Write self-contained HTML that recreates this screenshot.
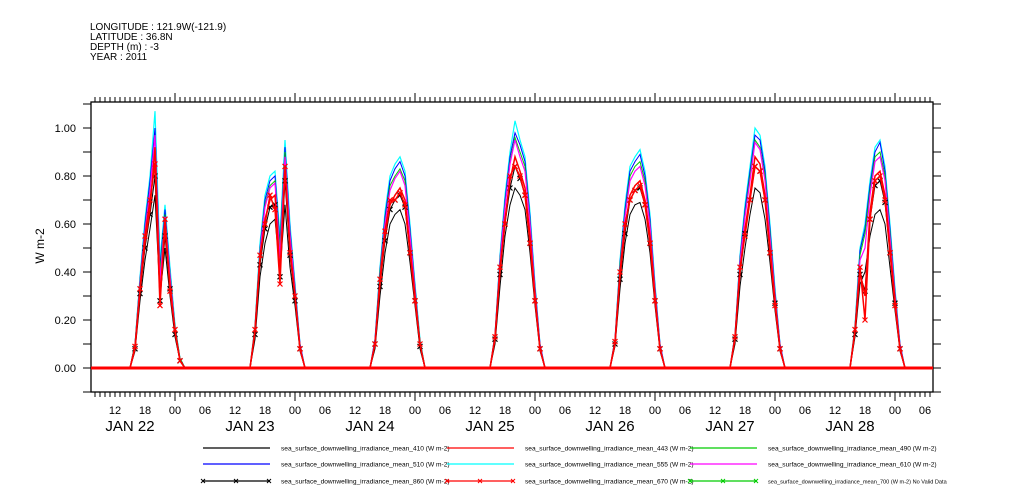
<!DOCTYPE html>
<html><head><meta charset="utf-8"><style>
html,body{margin:0;padding:0;background:#fff;}
svg{display:block;font-family:"Liberation Sans",sans-serif;}
</style></head><body>
<svg id="chart" width="1009" height="504" viewBox="0 0 1009 504">
<defs><clipPath id="plotclip"><rect x="91" y="102" width="842" height="290"/></clipPath></defs>
<g font-size="10" fill="#000">
<text x="90" y="30">LONGITUDE : 121.9W(-121.9)</text>
<text x="90" y="40">LATITUDE : 36.8N</text>
<text x="90" y="50">DEPTH (m) : -3</text>
<text x="90" y="60">YEAR : 2011</text>
</g>
<text x="44" y="246" font-size="12" text-anchor="middle" transform="rotate(-90 44 246)">W m-2</text>
<g id="axes"></g>
<g id="series" clip-path="url(#plotclip)"></g>
<g id="legend"></g>
</svg>
<script>
const HOURS=[14,15,16,17,18,19,20,21,22,23,24,25,26];
const DAY_LABELS=["JAN 22","JAN 23","JAN 24","JAN 25","JAN 26","JAN 27","JAN 28","JAN 29"];
const HOUR_LABELS=["00","06","12","18"];
const Y_TICKS=[0,0.2,0.4,0.6,0.8,1.0];
const s443=[0,0,.08,.32,.52,.66,.92,.3,.58,.35,.15,.03,0, 0,0,.15,.45,.62,.7,.72,.4,.82,.5,.3,.08,0, 0,0,.1,.35,.55,.68,.72,.75,.7,.5,.3,.1,0, 0,0,.12,.4,.62,.78,.88,.82,.75,.55,.3,.08,0, 0,0,.1,.38,.58,.72,.76,.78,.7,.55,.3,.08,0, 0,0,.12,.4,.58,.72,.88,.85,.72,.5,.28,.08,0, 0,0,.15,.4,.3,.65,.8,.82,.72,.5,.28,.08,0];
const s670=[0,0,.09,.33,.55,.7,.85,.26,.62,.32,.16,.03,0, 0,0,.16,.47,.6,.72,.66,.35,.84,.48,.3,.08,0, 0,0,.1,.37,.57,.7,.7,.73,.68,.48,.28,.1,0, 0,0,.13,.42,.6,.8,.84,.8,.72,.52,.28,.08,0, 0,0,.11,.4,.6,.7,.74,.76,.68,.52,.28,.08,0, 0,0,.13,.42,.55,.7,.84,.82,.7,.48,.26,.08,0, 0,0,.16,.42,.2,.62,.78,.8,.7,.48,.26,.08,0];
const s555=[0,0,.1,.38,.62,.8,1.07,.45,.68,.42,.18,.04,0, 0,0,.18,.52,.72,.8,.82,.55,.95,.6,.35,.1,0, 0,0,.12,.42,.65,.8,.85,.88,.82,.6,.35,.12,0, 0,0,.14,.47,.72,.9,1.03,.95,.88,.65,.35,.1,0, 0,0,.12,.45,.68,.84,.88,.91,.82,.64,.35,.1,0, 0,0,.14,.47,.68,.84,1.0,.97,.84,.6,.33,.1,0, 0,0,.18,.5,.6,.78,.92,.95,.84,.6,.33,.1,0];
const s510=[0,0,.1,.37,.6,.78,1.0,.42,.66,.4,.17,.04,0, 0,0,.17,.5,.7,.78,.8,.52,.92,.58,.34,.1,0, 0,0,.12,.41,.63,.78,.83,.86,.8,.58,.34,.11,0, 0,0,.14,.46,.7,.88,.98,.93,.86,.63,.34,.1,0, 0,0,.12,.44,.66,.82,.86,.89,.8,.62,.34,.1,0, 0,0,.14,.46,.66,.82,.97,.95,.82,.58,.32,.1,0, 0,0,.17,.49,.58,.76,.9,.94,.82,.58,.32,.1,0];
const s490=[0,0,.1,.36,.58,.75,.97,.4,.64,.39,.17,.04,0, 0,0,.17,.49,.68,.76,.78,.5,.9,.56,.33,.09,0, 0,0,.11,.4,.61,.76,.8,.83,.78,.56,.33,.11,0, 0,0,.13,.45,.68,.86,.96,.9,.84,.61,.33,.09,0, 0,0,.11,.43,.64,.8,.84,.86,.78,.6,.33,.09,0, 0,0,.13,.45,.64,.8,.95,.92,.8,.56,.31,.09,0, 0,0,.17,.47,.56,.74,.88,.9,.8,.56,.31,.09,0];
const s610=[0,0,.09,.35,.57,.74,.97,.36,.63,.38,.16,.03,0, 0,0,.16,.48,.67,.75,.77,.46,.88,.55,.32,.09,0, 0,0,.11,.38,.6,.74,.79,.82,.76,.55,.32,.1,0, 0,0,.13,.44,.67,.85,.95,.88,.82,.6,.32,.09,0, 0,0,.11,.41,.63,.78,.82,.84,.76,.59,.32,.09,0, 0,0,.13,.44,.63,.78,.94,.91,.78,.54,.3,.09,0, 0,0,.16,.45,.5,.72,.86,.88,.78,.54,.3,.09,0];
const s410=[0,0,.07,.28,.45,.58,.72,.3,.5,.3,.13,.03,0, 0,0,.12,.38,.52,.6,.62,.4,.68,.42,.26,.07,0, 0,0,.08,.3,.48,.6,.64,.66,.6,.44,.26,.08,0, 0,0,.1,.34,.55,.68,.75,.72,.66,.48,.26,.07,0, 0,0,.09,.33,.52,.64,.68,.69,.62,.48,.26,.07,0, 0,0,.1,.34,.5,.64,.75,.73,.62,.44,.24,.07,0, 0,0,.13,.35,.4,.55,.64,.66,.6,.42,.24,.07,0];
const s860=[0,0,.08,.31,.5,.64,.8,.28,.55,.33,.14,.03,0, 0,0,.14,.43,.58,.67,.68,.38,.78,.47,.28,.08,0, 0,0,.1,.34,.53,.66,.7,.72,.67,.48,.28,.09,0, 0,0,.12,.39,.6,.75,.84,.79,.72,.52,.28,.08,0, 0,0,.1,.37,.56,.7,.74,.75,.68,.52,.28,.08,0, 0,0,.12,.39,.56,.7,.84,.82,.7,.48,.27,.08,0, 0,0,.14,.39,.32,.62,.76,.78,.69,.48,.27,.08,0];

const NS="http://www.w3.org/2000/svg";
const X0=91,X1=933,Y0=102,Y1=392;
const T0=7.2, PXH=5; // hours since Jan22 00:00 at left edge
function xs(h){return X0+(h-T0)*PXH;}
function ys(v){return 368-v*240;}
function mk(tag,attrs,parent){const e=document.createElementNS(NS,tag);for(const k in attrs)e.setAttribute(k,attrs[k]);parent.appendChild(e);return e;}
const axes=document.getElementById('axes');
const frame=mk('rect',{x:X0,y:Y0,width:X1-X0,height:Y1-Y0,fill:'none',stroke:'#000','stroke-width':1.3},axes);


const tEnd=(X1-X0)/PXH+T0;
for(let h=Math.ceil(T0);h<=tEnd;h++){
  const x=xs(h), major=(((h%24)+24)%24===0);
  const L=major?9:5;
  const t1=mk('line',{x1:x,x2:x,y1:Y0,y2:Y0-L,stroke:'#000'},axes);
  
  
  const t2=mk('line',{x1:x,x2:x,y1:Y1,y2:Y1+L,stroke:'#000'},axes);
  
  
  const hh=((h%24)+24)%24;
  if(hh%6===0){
    const lt=mk('text',{x:x,y:414,'font-size':11,'text-anchor':'middle'},axes);
    lt.textContent=HOUR_LABELS[hh/6];
    
    
  }
}
DAY_LABELS.forEach((d,i)=>{
  const x=xs(i*24+12)+15;
  if(x>X1+20)return;
  const t=mk('text',{x:x,y:431,'font-size':15,'text-anchor':'middle'},axes);
  t.textContent=d;
  
  
});
for(let v=-0.1;v<=1.101;v+=0.1){
  const y=ys(v);
  const a=mk('line',{x1:X0,x2:X0-8,y1:y,y2:y,stroke:'#000'},axes);
  
  
  const b=mk('line',{x1:X1,x2:X1+8,y1:y,y2:y,stroke:'#000'},axes);
  
  
}
Y_TICKS.forEach(v=>{
  const t=mk('text',{x:76,y:ys(v)+4,'font-size':11,'text-anchor':'end'},axes);
  t.textContent=v.toFixed(2);
  
  
});
const sg=document.getElementById('series');
function pts(arr){
  const p=[[T0,0]];
  for(let d=0;d<7;d++)HOURS.forEach((h,i)=>p.push([d*24+h,arr[d*HOURS.length+i]]));
  p.push([tEnd,0]);
  return p;
}
function draw(arr,color,name,w,marker){
  const p=pts(arr);
  const pl=mk('polyline',{points:p.map(q=>xs(q[0]).toFixed(1)+','+ys(q[1]).toFixed(1)).join(' '),fill:'none',stroke:color,'stroke-width':w},sg);
  
  
  if(marker){
    p.forEach(q=>{
      if(q[1]<=0)return;
      const x=xs(q[0]),y=ys(q[1]);
      const m=mk('path',{d:`M${x-2.5},${y-2.5}L${x+2.5},${y+2.5}M${x-2.5},${y+2.5}L${x+2.5},${y-2.5}`,stroke:color,'stroke-width':1.2},sg);
      
      
    });
  }
}
draw(s555,'#00ffff','line-555',1.2,false);
draw(s510,'#0000ff','line-510',1,false);
draw(s490,'#00cc00','line-490',1,false);
draw(s610,'#ff00ff','line-610',1.2,false);
draw(s410,'#000000','line-410',1,false);
draw(s860,'#000000','line-860',1,true);
draw(s443,'#ff0000','line-443',1.5,false);
draw(s670,'#ff0000','line-670',1.5,true);
const zb=mk('line',{x1:X0,x2:X1,y1:ys(0),y2:ys(0),stroke:'#ff0000','stroke-width':3},sg);



const lg=document.getElementById('legend');
const LEG=[
 [203,448,'#000',false,'sea_surface_downwelling_irradiance_mean_410 (W m-2)'],
 [447,448,'#f00',false,'sea_surface_downwelling_irradiance_mean_443 (W m-2)'],
 [690,448,'#0c0',false,'sea_surface_downwelling_irradiance_mean_490 (W m-2)'],
 [203,464,'#00f',false,'sea_surface_downwelling_irradiance_mean_510 (W m-2)'],
 [447,464,'#0ff',false,'sea_surface_downwelling_irradiance_mean_555 (W m-2)'],
 [690,464,'#f0f',false,'sea_surface_downwelling_irradiance_mean_610 (W m-2)'],
 [203,481,'#000',true,'sea_surface_downwelling_irradiance_mean_860 (W m-2)'],
 [447,481,'#f00',true,'sea_surface_downwelling_irradiance_mean_670 (W m-2)'],
 [690,481,'#0c0',true,'sea_surface_downwelling_irradiance_mean_700 (W m-2) No Valid Data']
];
LEG.forEach(e=>{
  const [x,y,c,m,label]=e;
  const g=mk('g',{},lg);
  
  
  mk('line',{x1:x,x2:x+67,y1:y,y2:y,stroke:c,'stroke-width':1.2},g);
  if(m)[0,33,66].forEach(dx=>mk('path',{d:`M${x+dx-2},${y-2}L${x+dx+2},${y+2}M${x+dx-2},${y+2}L${x+dx+2},${y-2}`,stroke:c},g));
  const t=mk('text',{x:x+78,y:y+2.5,'font-size':label.length>55?5.6:6.6},g);
  t.textContent=label;
});
</script>
</body></html>
